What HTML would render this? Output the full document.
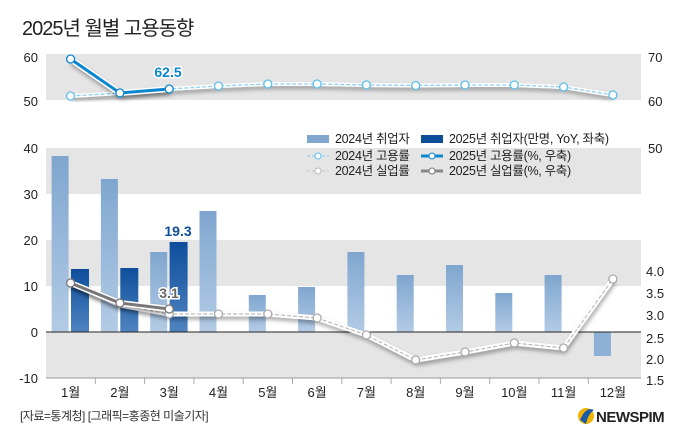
<!DOCTYPE html>
<html><head><meta charset="utf-8"><style>
body{margin:0;background:#fff;}
svg{display:block;font-family:"Liberation Sans","Noto Sans CJK KR",sans-serif;}
</style></head><body>
<svg width="680" height="442" viewBox="0 0 680 442" xmlns="http://www.w3.org/2000/svg">
<defs>
<linearGradient id="g24" x1="0" y1="0" x2="0" y2="1"><stop offset="0" stop-color="#7fa6cf"/><stop offset="1" stop-color="#b3cbe5"/></linearGradient>
<linearGradient id="g25" x1="0" y1="0" x2="0" y2="1"><stop offset="0" stop-color="#0d4e9c"/><stop offset="1" stop-color="#4f83c0"/></linearGradient>
<filter id="sh" x="-10%" y="-50%" width="120%" height="200%"><feDropShadow dx="1" dy="3" stdDeviation="2" flood-color="#000" flood-opacity="0.35"/></filter>
</defs>
<text x="22" y="35" font-size="20" fill="#222" letter-spacing="-1">2025년 월별 고용동향</text>
<rect x="46" y="54" width="595" height="46" fill="#e5e5e5"/>
<g font-size="13" fill="#222">
<text x="38" y="62" text-anchor="end">60</text><text x="38" y="106" text-anchor="end">50</text>
<text x="648" y="62">70</text><text x="648" y="106">60</text>
</g>
<rect x="46" y="148" width="595" height="46" fill="#e5e5e5"/>
<rect x="46" y="240" width="595" height="46" fill="#e5e5e5"/>
<rect x="46" y="332" width="595" height="46" fill="#e5e5e5"/>
<g font-size="13" fill="#222" text-anchor="end">
<text x="38" y="153">40</text><text x="38" y="199">30</text><text x="38" y="245">20</text><text x="38" y="291">10</text><text x="38" y="337">0</text><text x="38" y="383">-10</text>
</g>
<g font-size="13" fill="#222">
<text x="648" y="153">50</text><text x="646" y="276">4.0</text><text x="646" y="298">3.5</text><text x="646" y="320">3.0</text><text x="646" y="343">2.5</text><text x="646" y="364">2.0</text><text x="646" y="385">1.5</text>
</g>
<g fill="url(#g24)">
<rect x="51.6" y="156" width="17" height="176"/>
<rect x="100.9" y="179" width="17" height="153"/>
<rect x="150.2" y="252" width="17" height="80"/>
<rect x="199.5" y="211" width="17" height="121"/>
<rect x="248.8" y="295" width="17" height="37"/>
<rect x="298.1" y="287" width="17" height="45"/>
<rect x="347.4" y="252" width="17" height="80"/>
<rect x="396.7" y="275" width="17" height="57"/>
<rect x="446" y="265" width="17" height="67"/>
<rect x="495.3" y="293" width="17" height="39"/>
<rect x="544.6" y="275" width="17" height="57"/>
</g>
<rect x="593.9" y="332" width="17" height="24" fill="#8eb0d6"/>
<g fill="url(#g25)">
<rect x="71" y="269" width="18" height="63"/>
<rect x="120.3" y="268" width="18" height="64"/>
<rect x="169.6" y="242" width="18" height="90"/>
</g>
<line x1="46" y1="332" x2="641" y2="332" stroke="#222" stroke-width="1"/>
<line x1="46" y1="378" x2="641" y2="378" stroke="#999" stroke-width="1"/>
<g stroke="#aaa">
<line x1="95.3" y1="378" x2="95.3" y2="384"/><line x1="144.6" y1="378" x2="144.6" y2="384"/><line x1="193.9" y1="378" x2="193.9" y2="384"/><line x1="243.2" y1="378" x2="243.2" y2="384"/><line x1="292.5" y1="378" x2="292.5" y2="384"/><line x1="341.8" y1="378" x2="341.8" y2="384"/><line x1="391.1" y1="378" x2="391.1" y2="384"/><line x1="440.4" y1="378" x2="440.4" y2="384"/><line x1="489.7" y1="378" x2="489.7" y2="384"/><line x1="539" y1="378" x2="539" y2="384"/><line x1="588.3" y1="378" x2="588.3" y2="384"/>
</g>
<g font-size="13" fill="#222" text-anchor="middle">
<text x="70.6" y="397">1월</text><text x="119.9" y="397">2월</text><text x="169.2" y="397">3월</text><text x="218.5" y="397">4월</text><text x="267.8" y="397">5월</text><text x="317.1" y="397">6월</text><text x="366.4" y="397">7월</text><text x="415.7" y="397">8월</text><text x="465" y="397">9월</text><text x="514.3" y="397">10월</text><text x="563.6" y="397">11월</text><text x="612.9" y="397">12월</text>
</g>
<g filter="url(#sh)">
<polyline points="70.6,96 119.9,93 169.2,89 218.5,86 267.8,84 317.1,84 366.4,85 415.7,85.5 465,85 514.3,85 563.6,87 612.9,95" fill="none" stroke="#fff" stroke-width="4"/>
</g>
<polyline points="70.6,96 119.9,93 169.2,89 218.5,86 267.8,84 317.1,84 366.4,85 415.7,85.5 465,85 514.3,85 563.6,87 612.9,95" fill="none" stroke="#8fd0ef" stroke-width="1.3" stroke-dasharray="4,2"/>
<polyline points="70.6,59 119.9,93 169.2,89" fill="none" stroke="#fff" stroke-width="6" filter="url(#sh)"/>
<polyline points="70.6,59 119.9,93 169.2,89" fill="none" stroke="#0a86d0" stroke-width="3"/>
<g fill="#fff" stroke="#5cc0ea" stroke-width="1.3">
<circle cx="70.6" cy="96" r="4"/><circle cx="218.5" cy="86" r="4"/><circle cx="267.8" cy="84" r="4"/><circle cx="317.1" cy="84" r="4"/><circle cx="366.4" cy="85" r="4"/><circle cx="415.7" cy="85.5" r="4"/><circle cx="465" cy="85" r="4"/><circle cx="514.3" cy="85" r="4"/><circle cx="563.6" cy="87" r="4"/><circle cx="612.9" cy="95" r="4"/>
</g>
<g fill="#fff" stroke="#0a86d0" stroke-width="1.3">
<circle cx="70.6" cy="59" r="4"/><circle cx="119.9" cy="93" r="4"/><circle cx="169.2" cy="89" r="4"/>
</g>
<text x="168" y="77" font-size="14" font-weight="bold" fill="#0a86d0" text-anchor="middle" stroke="#fff" stroke-width="3" paint-order="stroke">62.5</text>
<polyline points="70.6,283 119.9,305 169.2,314 218.5,314 267.8,314 317.1,318 366.4,335 415.7,360 465,352 514.3,343 563.6,348 612.9,279" fill="none" stroke="#fff" stroke-width="5" filter="url(#sh)"/>
<polyline points="70.6,283 119.9,305 169.2,314 218.5,314 267.8,314 317.1,318 366.4,335 415.7,360 465,352 514.3,343 563.6,348 612.9,279" fill="none" stroke="#bbb" stroke-width="1.2" stroke-dasharray="4,2"/>
<polyline points="70.6,283 119.9,303 169.2,309" fill="none" stroke="#fff" stroke-width="6" filter="url(#sh)"/>
<polyline points="70.6,283 119.9,303 169.2,309" fill="none" stroke="#777" stroke-width="3"/>
<g fill="#fff" stroke="#aaa" stroke-width="1.3">
<circle cx="169.2" cy="314" r="4"/><circle cx="218.5" cy="314" r="4"/><circle cx="267.8" cy="314" r="4"/><circle cx="317.1" cy="318" r="4"/><circle cx="366.4" cy="335" r="4"/><circle cx="415.7" cy="360" r="4"/><circle cx="465" cy="352" r="4"/><circle cx="514.3" cy="343" r="4"/><circle cx="563.6" cy="348" r="4"/><circle cx="612.9" cy="279" r="4"/>
</g>
<g fill="#fff" stroke="#777" stroke-width="1.3">
<circle cx="70.6" cy="283" r="4"/><circle cx="119.9" cy="303" r="4"/><circle cx="169.2" cy="309" r="4"/>
</g>
<text x="169" y="298" font-size="14" font-weight="bold" fill="#666" text-anchor="middle" stroke="#fff" stroke-width="3" paint-order="stroke">3.1</text>
<text x="178" y="236" font-size="14" font-weight="bold" fill="#0d4e9c" text-anchor="middle" stroke="#fff" stroke-width="3" paint-order="stroke">19.3</text>
<g font-size="12.5" fill="#222" letter-spacing="-0.3">
<rect x="307" y="135" width="22" height="8" fill="#7fa6cf"/>
<text x="335" y="143">2024년 취업자</text>
<rect x="421" y="135" width="22" height="8" fill="#0d4e9c"/>
<text x="449" y="143">2025년 취업자(만명, YoY, 좌축)</text>
<line x1="307" y1="156" x2="329" y2="156" stroke="#8fd0ef" stroke-width="1.3" stroke-dasharray="3,2"/><circle cx="318" cy="156" r="3" fill="#fff" stroke="#5cc0ea"/>
<text x="335" y="160">2024년 고용률</text>
<line x1="421" y1="156" x2="443" y2="156" stroke="#0a86d0" stroke-width="3"/><circle cx="432" cy="156" r="3" fill="#fff" stroke="#0a86d0"/>
<text x="449" y="160">2025년 고용률(%, 우축)</text>
<line x1="307" y1="171" x2="329" y2="171" stroke="#ccc" stroke-width="1.3" stroke-dasharray="3,2"/><circle cx="318" cy="171" r="3" fill="#fff" stroke="#bbb"/>
<text x="335" y="175">2024년 실업률</text>
<line x1="421" y1="171" x2="443" y2="171" stroke="#888" stroke-width="3"/><circle cx="432" cy="171" r="3" fill="#fff" stroke="#777"/>
<text x="449" y="175">2025년 실업률(%, 우축)</text>
</g>
<text x="20" y="420" font-size="12" fill="#333" letter-spacing="-0.5">[자료=통계청] [그래픽=홍종현 미술기자]</text>
<circle cx="586" cy="416" r="8" fill="#f0b400"/>
<path d="M580 420 Q586 406 594 410 Q588 414 586 424 Z" fill="#1a5aa8"/>
<text x="596" y="422" font-size="15" font-weight="bold" fill="#222" letter-spacing="-0.5">NEWSPIM</text>
</svg>
</body></html>
